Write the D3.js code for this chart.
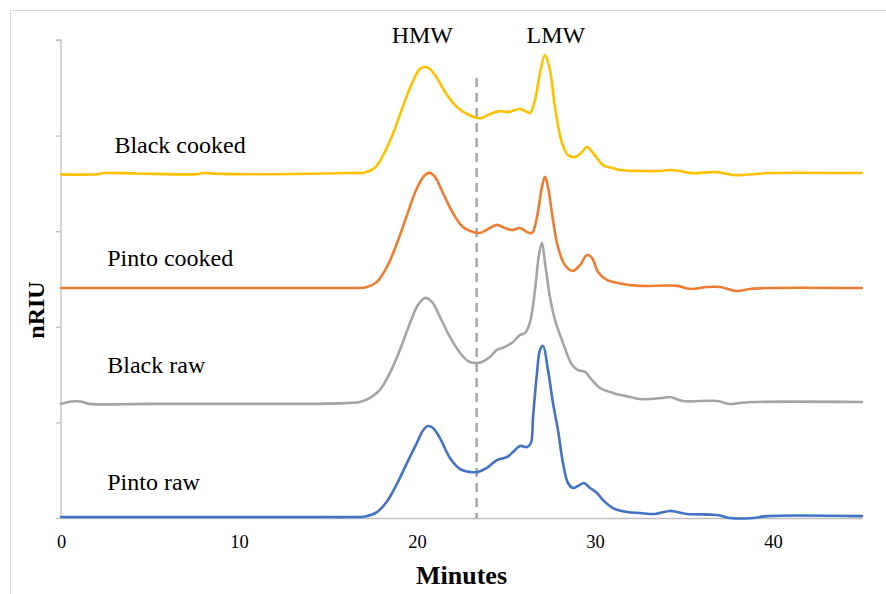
<!DOCTYPE html>
<html>
<head>
<meta charset="utf-8">
<script src="https://cdn.jsdelivr.net/npm/d3@7"></script>
<style>
  html, body { margin: 0; padding: 0; background: #fff; }
  svg { display: block; }
  text { font-family: "Liberation Serif", "Times New Roman", serif; fill: #000; }
</style>
</head>
<body>
<svg id="chart" width="886" height="594"></svg>
<script>
// Stacked refractive-index chromatograms (nRIU vs. retention time, minutes).
// Each trace is drawn as baseline offset + detector signal.

const seriesNames   = ["Pinto raw", "Black raw", "Pinto cooked", "Black cooked"];
const seriesColors  = ["#4472C4", "#A5A5A5", "#ED7D31", "#FFC000"];
const seriesOffsets = [0, 60, 120, 180];

const pintoRawTime = [0, 5, 10, 15, 16.24, 17.08, 17.75, 18.31, 18.88, 19.44, 20.0, 20.34, 20.62, 20.90, 21.29, 21.85, 22.42, 22.98, 23.43, 23.93, 24.49, 25.06, 25.39, 25.79, 26.18, 26.40, 26.52, 26.74, 26.91, 27.08, 27.36, 27.64, 27.92, 28.20, 28.48, 28.76, 29.04, 29.38, 29.72, 30.11, 30.45, 31.01, 31.80, 32.53, 33.37, 34.21, 34.61, 35.17, 36.85, 37.58, 38.88, 39.66, 45];
const pintoRawSignal = [0.5, 0.5, 0.5, 0.5, 0.5, 0.8, 3.1, 8.6, 18.0, 28.8, 39.4, 45.8, 48.1, 47.1, 41.8, 31.4, 25.6, 24.1, 24.1, 26.2, 30.3, 31.9, 34.5, 37.7, 37.1, 39.2, 52.8, 75.8, 87.9, 90.0, 77.4, 60.1, 46.0, 28.8, 18.3, 15.7, 16.7, 18.3, 15.7, 13.1, 9.4, 5.2, 3.1, 2.6, 2.1, 3.7, 3.1, 2.1, 1.6, 0, 0, 1.0, 1.0];

const blackRawTime = [0, 0.6, 1.1, 1.6, 5, 10, 15, 16.24, 16.80, 17.36, 17.92, 18.48, 19.04, 19.61, 20.06, 20.45, 20.84, 21.29, 21.85, 22.42, 22.87, 23.26, 23.65, 24.10, 24.49, 24.94, 25.39, 25.79, 26.07, 26.35, 26.63, 26.85, 27.02, 27.19, 27.47, 27.75, 28.20, 28.71, 29.04, 29.44, 29.83, 30.28, 31.01, 31.97, 32.53, 33.82, 34.21, 34.94, 36.85, 37.58, 38.15, 39.10, 45];
const blackRawSignal = [-0.3, 0.9, 0.9, -0.3, -0.3, -0.3, -0.2, 0.2, 0.7, 2.8, 7.0, 15.9, 27.9, 42.0, 51.5, 55.1, 53.0, 45.2, 34.7, 26.3, 22.1, 21.1, 21.6, 24.2, 27.9, 29.5, 32.1, 35.7, 36.8, 42.5, 59.3, 77.6, 83.9, 73.4, 55.6, 43.6, 31.6, 20.1, 17.4, 16.4, 12.2, 8.0, 5.4, 3.3, 2.2, 2.8, 3.3, 1.2, 1.2, -0.4, 0.2, 0.7, 0.7];

const pintoCookedTime = [0, 5, 10, 15, 16.24, 17.19, 17.75, 18.31, 18.88, 19.44, 20.0, 20.45, 20.73, 21.01, 21.46, 22.02, 22.58, 23.15, 23.54, 24.10, 24.49, 24.94, 25.34, 25.79, 26.18, 26.46, 26.74, 27.02, 27.19, 27.36, 27.64, 27.92, 28.31, 28.76, 29.16, 29.55, 29.83, 30.17, 30.67, 31.57, 32.53, 34.61, 35.34, 36.29, 37.02, 37.98, 38.71, 39.66, 45];
const pintoCookedSignal = [0.3, 0.3, 0.3, 0.3, 0.3, 0.8, 3.5, 11.3, 23.8, 38.5, 52.6, 59.4, 60.5, 58.4, 50.0, 39.5, 32.2, 29.6, 29.1, 31.7, 33.3, 31.7, 30.6, 31.7, 29.6, 29.1, 37.4, 53.1, 58.4, 53.1, 35.8, 21.7, 12.3, 9.2, 12.3, 17.5, 16.0, 8.7, 4.5, 2.4, 1.4, 1.4, -0.2, 0.8, 0.8, -1.3, -0.2, 0.3, 0.3];

const blackCookedTime = [0, 2.0, 2.4, 4.2, 7.6, 8.0, 8.6, 12, 16.24, 17.08, 17.64, 18.09, 18.65, 19.21, 19.78, 20.17, 20.45, 20.73, 21.12, 21.69, 22.25, 22.81, 23.37, 23.65, 24.10, 24.66, 25.11, 25.79, 26.18, 26.35, 26.63, 26.91, 27.19, 27.47, 27.75, 28.15, 28.48, 28.88, 29.27, 29.55, 29.89, 30.45, 31.01, 31.40, 32.53, 33.65, 34.21, 34.78, 35.34, 36.85, 37.75, 38.31, 39.10, 39.66, 45];
const blackCookedSignal = [-0.3, -0.2, 0.4, 0.2, -0.2, 0.4, 0.1, -0.2, 0.4, 0.7, 3.2, 9.6, 21.0, 35.3, 48.6, 55.0, 55.9, 54.8, 50.1, 41.2, 34.9, 31.3, 29.2, 29.2, 31.3, 32.8, 32.3, 33.9, 32.3, 31.8, 38.6, 52.7, 62.1, 54.3, 34.9, 16.1, 9.8, 8.8, 11.4, 14.0, 10.9, 4.6, 3.0, 2.0, 1.5, 1.5, 2.0, 1.5, 0.4, 0.9, -0.6, -0.6, -0.1, 0.4, 0.4];

const xTicks = [0, 10, 20, 30, 40];
const yTicks = [0, 50, 100, 150, 200, 250];
const cutoffTime = 23.35;            // HMW / LMW boundary
const regionLabels = ["HMW", "LMW"];
const regionLabelTimes = [20.3, 27.8];

const seriesTimes   = [pintoRawTime, blackRawTime, pintoCookedTime, blackCookedTime];
const seriesSignals = [pintoRawSignal, blackRawSignal, pintoCookedSignal, blackCookedSignal];

// ---- layout ----
const svg = d3.select("#chart");
const plot = { left: 61, right: 862, top: 40, bottom: 518 };

const x = d3.scaleLinear().domain([0, 45]).range([plot.left, plot.right]);
const y = d3.scaleLinear().domain([0, 250]).range([plot.bottom, plot.top]);

// outer frame
svg.append("rect")
  .attr("x", 10.5).attr("y", 10.5)
  .attr("width", 1000).attr("height", 1000)
  .attr("fill", "none").attr("stroke", "#D9D9D9").attr("stroke-width", 1);

// y axis: line with outward ticks, no labels
const yAxis = svg.append("g")
  .attr("transform", `translate(${plot.left},0)`)
  .call(d3.axisLeft(y).tickValues(yTicks).tickSize(5).tickFormat(""));
yAxis.select(".domain").attr("stroke", "#BFBFBF").attr("stroke-width", 1.3)
  .attr("d", `M-5,${y(250)}H0V${y(0)}`);
yAxis.selectAll(".tick line").attr("stroke", "#BFBFBF").attr("stroke-width", 1.3);

// x axis: line with labels, no tick marks
const xAxis = svg.append("g")
  .attr("transform", `translate(0,${plot.bottom})`)
  .call(d3.axisBottom(x).tickValues(xTicks).tickSize(0).tickPadding(17));
xAxis.select(".domain").attr("stroke", "#BFBFBF").attr("stroke-width", 1.3);
xAxis.selectAll(".tick text")
  .attr("font-family", "Liberation Serif, Times New Roman, serif")
  .attr("font-size", 18.5).attr("fill", "#000");

// HMW / LMW boundary
svg.append("line")
  .attr("x1", x(cutoffTime)).attr("x2", x(cutoffTime))
  .attr("y1", 78).attr("y2", plot.bottom)
  .attr("stroke", "#A5A5A5").attr("stroke-width", 2.5)
  .attr("stroke-dasharray", "9,6");

// traces
const line = d3.line()
  .x(d => x(d[0]))
  .y(d => y(d[1]))
  .curve(d3.curveCatmullRom.alpha(0.5));

seriesNames.forEach((name, i) => {
  const pts = seriesTimes[i].map((t, k) => [t, seriesOffsets[i] + seriesSignals[i][k]]);
  svg.append("path")
    .datum(pts)
    .attr("fill", "none")
    .attr("stroke", seriesColors[i])
    .attr("stroke-width", 2.6)
    .attr("stroke-linejoin", "round")
    .attr("stroke-linecap", "round")
    .attr("d", line);
});

// trace labels (x in minutes, baseline offset above the trace in px)
const labelPos = [
  { t: 2.6, dy: -28 },
  { t: 2.6, dy: -30 },
  { t: 2.6, dy: -23 },
  { t: 3.0, dy: -21 }
];
seriesNames.forEach((name, i) => {
  svg.append("text")
    .attr("x", x(labelPos[i].t))
    .attr("y", y(seriesOffsets[i]) + labelPos[i].dy)
    .attr("font-size", 24)
    .text(name);
});

// region labels
regionLabels.forEach((lab, i) => {
  svg.append("text")
    .attr("x", x(regionLabelTimes[i]))
    .attr("y", 43)
    .attr("text-anchor", "middle")
    .attr("font-size", 24)
    .text(lab);
});

// axis titles
svg.append("text")
  .attr("x", (plot.left + plot.right) / 2)
  .attr("y", 584)
  .attr("text-anchor", "middle")
  .attr("font-size", 26)
  .attr("font-weight", "bold")
  .text("Minutes");

svg.append("text")
  .attr("transform", "translate(44,310) rotate(-90)")
  .attr("text-anchor", "middle")
  .attr("font-size", 24)
  .attr("font-weight", "bold")
  .text("nRIU");
</script>
</body>
</html>
